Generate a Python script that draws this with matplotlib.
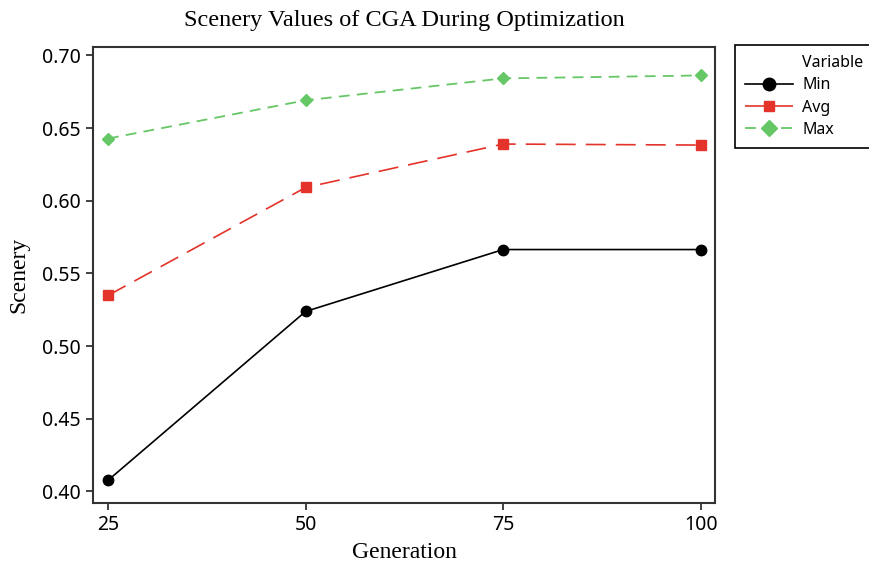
import matplotlib.pyplot as plt
import matplotlib
from matplotlib.lines import Line2D

tick_font = 'Noto Sans'
serif_font = 'Liberation Serif'

generation = [25, 50, 75, 100]
scenery_min = [0.4076, 0.5238, 0.5664, 0.5664]
scenery_avg = [0.5348, 0.6091, 0.6390, 0.6383]
scenery_max = [0.6428, 0.6691, 0.6842, 0.6862]

yticks = [0.40, 0.45, 0.50, 0.55, 0.60, 0.65, 0.70]

matplotlib.rcParams['font.family'] = tick_font

fig = plt.figure(figsize=(8.7, 5.64), dpi=100)
ax = fig.add_axes([0.1069, 0.1082, 0.8218 - 0.1069, 0.9167 - 0.1082])

red = '#e3332a'
green = '#66c766'

ax.plot(generation, scenery_min, color='black', linewidth=1.2, marker='o', markersize=7.5, label='Min')
ax.plot(generation, scenery_avg, color=red, linewidth=1.2, dashes=(12, 6), marker='s', markersize=6.5, label='Avg')
ax.plot(generation, scenery_max, color=green, linewidth=1.3, dashes=(6, 4), marker='D', markersize=6.5, label='Max')

# axes ranges
ax.set_xlim(23.1, 101.8)
ax.set_ylim(0.392, 0.7058)
ax.set_xticks(generation)
ax.set_yticks(yticks)
ax.set_yticklabels([f'{v:.2f}' for v in yticks])
ax.tick_params(direction='out', length=5, width=1.3, labelsize=14, color='#333333', pad=4)

for s in ax.spines.values():
    s.set_linewidth(1.5)
    s.set_color('#333333')

ax.set_title('Scenery Values of CGA During Optimization', fontfamily=serif_font, fontsize=17.5, pad=15)
ax.set_xlabel('Generation', fontfamily=serif_font, fontsize=17, labelpad=5)
ax.set_ylabel('Scenery', fontfamily=serif_font, fontsize=17, labelpad=9)

# Minitab-style legend: header row aligned with labels
handles, labels = ax.get_legend_handles_labels()
header = Line2D([], [], linestyle='none')
leg = fig.legend([header] + handles, ['Variable'] + labels, loc='upper left',
                 bbox_to_anchor=(735 / 870, 1 - 45 / 564), fontsize=11.5,
                 frameon=True, fancybox=False, edgecolor='black', framealpha=1,
                 handlelength=3.0, handletextpad=0.55, borderpad=0.65, labelspacing=0.38,
                 borderaxespad=0, markerscale=1.2)
leg.get_frame().set_linewidth(1.2)

plt.savefig('out.png', dpi=100)
